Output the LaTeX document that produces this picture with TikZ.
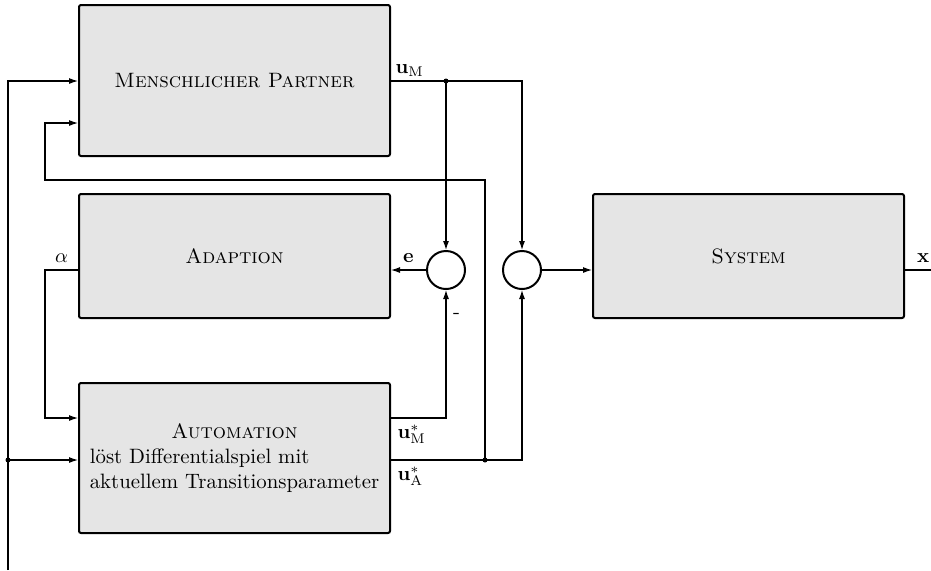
\documentclass[tikz,border=0pt]{standalone}
\usetikzlibrary{positioning, arrows.meta}

\begin{document}
\begin{tikzpicture}[x=0.5pt, y=-0.5pt, line width=0.55pt,
	>={Latex[length=4.5pt,width=3pt]},
	font=\fontsize{10.4}{12.5}\selectfont,
	block/.style={draw, line width=1pt, fill=black!10, rounded corners=1pt, minimum width=155.5pt, align=center},
	sumnode/.style={draw, line width=1pt, circle, minimum size=19pt, inner sep=0pt},
	junction/.style={circle, fill, inner sep=0pt, minimum size=2.5pt}]
	\useasboundingbox (0,0) rectangle (931,570);
	% blocks
	\node[block, minimum height=75.5pt] (mensch) at (234.5,80.5) {\textsc{Menschlicher Partner}};
	\node[block, minimum height=62pt] (adapt) at (234.5,256) {\textsc{Adaption}};
	\node[block, minimum height=75pt] (auto) at (234.5,458) {%
		\begin{tabular}{@{}l@{}}\multicolumn{1}{@{}c@{}}{\textsc{Automation}}\\
		löst Differentialspiel mit\\ aktuellem Transitionsparameter\end{tabular}};
	\node[block, minimum height=62pt] (sys) at (748.5,256) {\textsc{System}};
	\node[sumnode] (sumE) at (446,270) {};
	\node[sumnode] (sumU) at (522,270) {};
	% rows and corners
	\coordinate (rowM) at (0,81);
	\coordinate (rowC) at (0,123);
	\coordinate (rowE) at (0,270);
	\coordinate (rowA) at (0,418);
	\coordinate (rowB) at (0,460);
	\coordinate (uM) at (446,81);
	\coordinate (uA) at (485,460);
	\coordinate (left) at (8,460);
	\coordinate (bottom) at (8,570);
	\coordinate (fbCorner) at (45,180);
	\coordinate (alphaCorner) at (45,270);
	\coordinate (xout) at (931,270);
	% connections
	\draw[->] (mensch.east |- rowM) -| (sumU.north);
	\draw[->] (uM) -- (sumE.north);
	\draw[->] (sumE.west) -- (adapt.east |- rowE) node[midway, above] {$\mathbf{e}$};
	\draw[->] (sumU.east) -- (sys.west |- rowE);
	\draw (sys.east |- rowE) -- (xout) node[pos=0.7, above] {$\mathbf{x}$};
	\draw[->] (adapt.west |- rowE) -- (alphaCorner) node[midway, above] {$\alpha$} |- (auto.west |- rowA);
	\draw[->] (auto.east |- rowA) -| (sumE.south) node[pos=0.9, right] {-};
	\draw[->] (auto.east |- rowB) -| (sumU.south);
	\draw[->] (uA) |- (fbCorner) |- (mensch.west |- rowC);
	\draw[->] (bottom) |- (mensch.west |- rowM);
	\draw[->] (left) -- (auto.west |- rowB);
	\node[junction] (dotM) at (uM) {};
	\node[junction] (dotA) at (uA) {};
	\node[junction] (dotL) at (left) {};
	% labels
	\node[anchor=south west, inner sep=2pt] (lblUM) at (mensch.east |- rowM) {$\mathbf{u}_\mathrm{M}$};
	\node[anchor=north west, inner sep=3pt] (lblUMs) at (auto.east |- rowA) {$\mathbf{u}^*_\mathrm{M}$};
	\node[anchor=north west, inner sep=3pt] (lblUAs) at (auto.east |- rowB) {$\mathbf{u}^*_\mathrm{A}$};
\end{tikzpicture}
\end{document}
